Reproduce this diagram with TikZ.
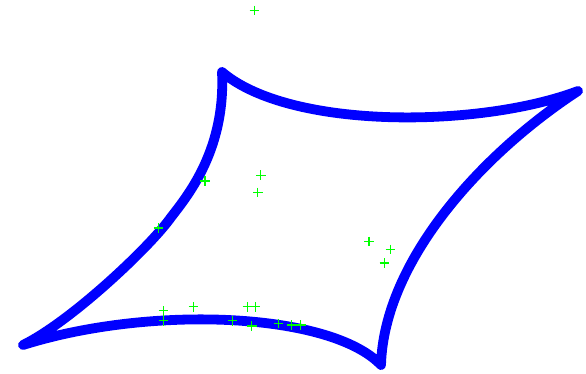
\documentclass[tikz,border=0pt]{standalone}
\usepackage{tikz}
\definecolor{curveblue}{RGB}{0,0,255}
\definecolor{markgreen}{RGB}{0,255,0}
\tikzset{
  curve/.style={draw=curveblue, line width=9.8pt, line join=round, line cap=round},
  plusmark/.style={draw=markgreen, line width=1.3pt}
}
\begin{document}
\begin{tikzpicture}[x=1pt,y=-1pt]
\useasboundingbox (0,0) rectangle (586,374);
\coordinate (cA) at (222,72);
\coordinate (cB) at (578,91);
\coordinate (cC) at (381,365);
\coordinate (cD) at (23,345);
\coordinate (mDA) at (169,220);
% astroid-like closed curve
\path[curve]
  (cA) .. controls (290,130) and (480,128) .. (cB)
       .. controls (480,155) and (384,262) .. (cC)
       .. controls (330,312) and (150,305) .. (cD)
       .. controls (70,322) and (146.5,250) .. (mDA)
       .. controls (182,202) and (226,155) .. (cA) -- cycle;
% green plus markers
\foreach \px/\py in {254.5/10.5, 205/181, 260.7/175.3, 257.8/192.5, 158.5/228,
  369/241.5, 390.5/249.5, 384.3/263, 163.5/310.8, 163.5/320.8, 193.5/306.7,
  247.3/306.7, 255.3/306.7, 232.5/320.7, 251.8/326, 278.5/323.3, 291.8/325, 300.8/325}
  \path[plusmark] (\px-4.8,\py) -- (\px+4.8,\py) (\px,\py-4.8) -- (\px,\py+4.8);
\end{tikzpicture}
\end{document}
